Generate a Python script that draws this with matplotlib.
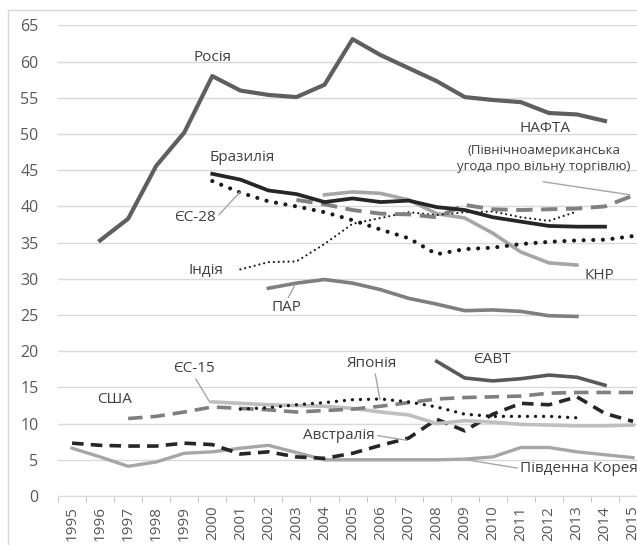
import numpy as np
import matplotlib
matplotlib.use("Agg")
import matplotlib.pyplot as plt
from matplotlib.patches import Rectangle

nan = np.nan

YEARS = [str(y) for y in range(1995, 2016)]

# values, %
russia = [nan, 35.3, 38.3, 45.6, 50.2, 58.0, 56.0, 55.4, 55.1, 56.8, 63.1,
          60.9, 59.1, 57.3, 55.1, 54.7, 54.4, 52.9, 52.7, 51.8, nan]
brazil = [nan] * 5 + [44.5, 43.7, 42.2, 41.7, 40.6, 41.1, 40.6, 40.8, 39.9,
                      39.5, 38.5, 37.9, 37.3, 37.2, 37.2, nan]
eu28 = [nan] * 5 + [43.5, 41.9, 40.7, 40.0, 39.2, 38.1, 36.8, 35.6, 33.4,
                    34.1, 34.3, 34.8, 35.1, 35.3, 35.4, 35.9]
nafta = [nan] * 8 + [40.9, 40.3, 39.5, 39.0, 38.9, 38.5, 40.2, 39.6, 39.5,
                     39.6, 39.7, 40.0, 41.5]
india = [nan] * 6 + [31.3, 32.3, 32.4, 34.8, 37.6, 38.4, 39.2, 38.8, 39.2,
                     39.3, 38.5, 38.0, 39.3, nan, nan]
china = [nan] * 9 + [41.6, 42.0, 41.8, 40.9, 39.0, 38.4, 36.3, 33.7, 32.2,
                     31.9, nan, nan]
south_africa = [nan] * 7 + [28.7, 29.4, 29.9, 29.4, 28.5, 27.3, 26.5, 25.6,
                            25.7, 25.5, 24.9, 24.8, nan, nan]
efta = [nan] * 13 + [18.6, 16.3, 15.9, 16.2, 16.7, 16.4, 15.3, nan]
usa = [nan] * 2 + [10.7, 11.0, 11.6, 12.3, 12.1, 11.9, 11.6, 11.8, 12.0, 12.4,
                   12.9, 13.4, 13.6, 13.7, 13.8, 14.2, 14.3, 14.3, 14.3]
eu15 = [nan] * 5 + [13.0, 12.8, 12.6, 12.5, 12.4, 12.1, 11.6, 11.2, 10.0,
                    10.4, 10.2, 9.9, 9.8, 9.7, 9.7, 9.8]
japan = [nan] * 6 + [12.0, 12.2, 12.6, 12.9, 13.3, 13.4, 13.0, 12.3, 11.3,
                     11.0, 11.0, 11.0, 10.8, nan, nan]
australia = [7.3, 7.0, 6.9, 6.9, 7.3, 7.1, 5.8, 6.1, 5.4, 5.2, 5.9, 7.0, 8.0,
             10.6, 9.0, 11.3, 12.8, 12.6, 13.7, 11.4, 10.3]
korea = [6.6, 5.4, 4.1, 4.7, 5.9, 6.1, 6.6, 7.0, 6.0, 5.0, 5.0, 5.0, 5.0, 5.0,
         5.1, 5.4, 6.7, 6.7, 6.1, 5.7, 5.3]

TEXT_COLOR = "#404040"
LEADER_COLOR = "#a6a6a6"


def draw_series(ax, x):
    dot = dict(dash_capstyle="round", solid_capstyle="round")
    ax.plot(x, korea, color="#a6a6a6", lw=2.4)
    ax.plot(x, australia, color="#262626", lw=2.6, linestyle=(0, (3.2, 2.0)))
    ax.plot(x, eu15, color="#bfbfbf", lw=2.6)
    ax.plot(x, usa, color="#7f7f7f", lw=2.6, linestyle=(0, (4.0, 2.2)))
    ax.plot(x, japan, color="#1a1a1a", lw=2.4, linestyle=(0, (0.01, 2.4)), **dot)
    ax.plot(x, efta, color="#595959", lw=2.6)
    ax.plot(x, south_africa, color="#7f7f7f", lw=2.6)
    ax.plot(x, china, color="#a6a6a6", lw=2.6)
    ax.plot(x, india, color="#1a1a1a", lw=1.6, linestyle=(0, (0.01, 2.2)), **dot)
    ax.plot(x, nafta, color="#808080", lw=2.8, linestyle=(0, (4.2, 2.2)))
    ax.plot(x, eu28, color="#1a1a1a", lw=3.0, linestyle=(0, (0.01, 2.3)), **dot)
    ax.plot(x, brazil, color="#262626", lw=2.7)
    ax.plot(x, russia, color="#5f5f5f", lw=3.0)


def draw_labels(ax):
    kw = dict(color=TEXT_COLOR, fontsize=11, ha="center", va="center")
    lead = dict(arrowstyle="-", color=LEADER_COLOR, lw=1.0,
                shrinkA=0, shrinkB=0)

    ax.text(4.99, 60.6, "Росія", **kw)
    ax.text(6.06, 46.7, "Бразилія", **kw)
    ax.annotate("ЄС-28", xy=(5.99, 42.0), xytext=(4.39, 38.4),
                arrowprops=dict(relpos=(1.0, 0.5), **lead), **kw)
    ax.text(4.78, 31.1, "Індія", **kw)
    ax.annotate("ПАР", xy=(7.95, 29.2), xytext=(7.66, 26.0),
                arrowprops=dict(relpos=(0.5, 1.0), **lead), **kw)
    ax.text(16.86, 50.8, "НАФТА", **kw)
    ax.text(16.83, 46.6, "(Північноамериканська\nугода про вільну торгівлю)",
            color=TEXT_COLOR, fontsize=9.5, ha="center", va="center",
            linespacing=1.25)
    ax.annotate("", xy=(19.89, 41.6), xytext=(16.8, 43.4), arrowprops=lead)
    ax.text(18.79, 30.5, "КНР", **kw)
    ax.text(14.97, 18.9, "ЄАВТ", **kw)
    ax.annotate("Японія", xy=(10.98, 13.3), xytext=(10.7, 18.3),
                arrowprops=dict(relpos=(0.55, 0.0), **lead), **kw)
    ax.annotate("ЄС-15", xy=(4.92, 12.9), xytext=(4.35, 17.6),
                arrowprops=dict(relpos=(0.5, 0.0), **lead), **kw)
    ax.text(1.53, 13.3, "США", **kw)
    ax.annotate("Австралія", xy=(11.94, 7.7), xytext=(9.52, 8.4),
                arrowprops=dict(relpos=(1.0, 0.5), **lead), **kw)
    ax.annotate("Південна Корея", xy=(14.07, 5.0), xytext=(15.97, 3.8),
                arrowprops=dict(relpos=(0.0, 0.5), **lead),
                color=TEXT_COLOR, fontsize=11, ha="left", va="center")


def main():
    plt.rcParams["font.family"] = ["Open Sans", "DejaVu Sans"]

    fig = plt.figure(figsize=(6.37, 5.45), dpi=100)
    fig.add_artist(Rectangle((8 / 637, -0.1), 1.2, 1.1 - 10 / 545,
                             transform=fig.transFigure, fill=False,
                             edgecolor="#d9d9d9", lw=1.0))

    # axes run past the right edge, as in the cropped original
    ax = fig.add_axes([0.0911, 0.0899, 0.9247, 0.8635])
    x = np.arange(len(YEARS))

    ax.set_xlim(-0.5, len(YEARS) - 0.5)
    ax.set_ylim(0, 65)
    ax.set_yticks(range(0, 66, 5))
    ax.grid(axis="y", color="#d9d9d9", lw=1.0)
    ax.set_axisbelow(True)
    for side in ["top", "right", "left"]:
        ax.spines[side].set_visible(False)
    ax.spines["bottom"].set_color("#d9d9d9")

    ax.set_xticks(x)
    ax.set_xticklabels(YEARS, rotation=90)
    ax.set_xticks(np.arange(-0.5, len(YEARS), 1.0), minor=True)
    ax.tick_params(axis="x", which="major", length=0, pad=7,
                   labelsize=11, labelcolor="#595959")
    ax.tick_params(axis="x", which="minor", length=4, color="#bfbfbf")
    ax.tick_params(axis="y", length=0, pad=14, labelsize=11.5,
                   labelcolor="#595959")

    draw_series(ax, x)
    draw_labels(ax)

    fig.savefig("out.png", dpi=100)
    plt.close(fig)


if __name__ == "__main__":
    main()
